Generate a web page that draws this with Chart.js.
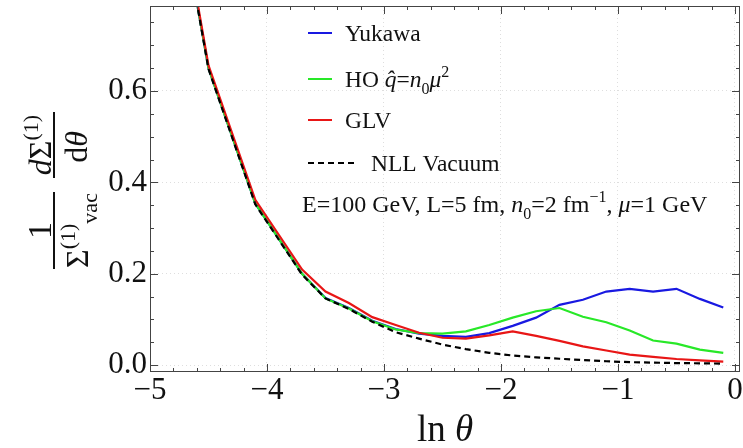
<!DOCTYPE html>
<html lang="en">
<head>
  <meta charset="UTF-8" />
  <title>Splitting function, medium vs vacuum</title>
  <script src="https://cdn.jsdelivr.net/npm/chart.js"></script>
  <style>
    body {
      margin: 0;
      background: #fff;
    }
    canvas {
      display: block;
    }
  </style>
</head>
<body>

<canvas id="splitChart" width="743" height="448"></canvas>

<script>
  // ln(theta) sample points
  const lnTheta = [-4.9, -4.5, -4.1, -3.7, -3.5, -3.3, -3.1, -2.9, -2.7, -2.5, -2.3,
                   -2.1, -1.9, -1.7, -1.5, -1.3, -1.1, -0.9, -0.7, -0.5, -0.3, -0.1];

  const yukawa = [1.23, 0.650, 0.354, 0.200, 0.147, 0.125, 0.097, 0.079, 0.069, 0.064, 0.062,
                  0.070, 0.086, 0.104, 0.132, 0.143, 0.161, 0.167, 0.161, 0.167, 0.145, 0.126];
  const hoQhat = [1.23, 0.650, 0.354, 0.200, 0.146, 0.124, 0.096, 0.078, 0.070, 0.069, 0.074,
                  0.088, 0.104, 0.118, 0.125, 0.106, 0.094, 0.076, 0.054, 0.047, 0.034, 0.027];
  const glv = [1.24, 0.656, 0.362, 0.209, 0.161, 0.136, 0.105, 0.088, 0.071, 0.060, 0.058,
               0.065, 0.074, 0.064, 0.053, 0.041, 0.032, 0.023, 0.018, 0.0135, 0.0105, 0.0077];
  const nllVacuum = [1.23, 0.648, 0.352, 0.198, 0.146, 0.123, 0.095, 0.072, 0.058, 0.045, 0.035,
                     0.027, 0.021, 0.017, 0.014, 0.011, 0.0085, 0.0065, 0.0055, 0.0045, 0.004, 0.0033];

  const xTicks = [-5, -4, -3, -2, -1, 0];
  const yTicks = [0, 0.2, 0.4, 0.6];

  const SERIF = '"Liberation Serif", "DejaVu Serif", serif';
  const BLUE = 'rgb(25,25,225)';
  const GREEN = 'rgb(40,232,40)';
  const RED = 'rgb(232,22,22)';

  const pts = ys => lnTheta.map((x, i) => ({ x: x, y: ys[i] }));

  // draws a run of text pieces: {t, it, sub, sup}
  function richText(ctx, x, y, parts, size) {
    let cx = x;
    parts.forEach(p => {
      const s = p.sub || p.sup ? Math.round(size * 0.68) : size;
      ctx.font = (p.it ? 'italic ' : '') + s + 'px ' + SERIF;
      let dy = 0;
      if (p.sub) dy = size * 0.28;
      if (p.sup) dy = -size * 0.42;
      ctx.fillText(p.t, cx, y + dy);
      cx += ctx.measureText(p.t).width;
    });
    return cx - x;
  }

  function richWidth(ctx, parts, size) {
    let w = 0;
    parts.forEach(p => {
      const s = p.sub || p.sup ? Math.round(size * 0.68) : size;
      ctx.font = (p.it ? 'italic ' : '') + s + 'px ' + SERIF;
      w += ctx.measureText(p.t).width;
    });
    return w;
  }

  const decorations = {
    id: 'decorations',
    afterDraw(chart) {
      const ctx = chart.ctx;
      const a = chart.chartArea;
      const xs = chart.scales.x, ys = chart.scales.y;
      ctx.save();

      // frame
      ctx.strokeStyle = '#444';
      ctx.lineWidth = 1;
      ctx.strokeRect(a.left + 0.5, a.top + 0.5, a.right - a.left - 1, a.bottom - a.top - 1);

      // tick marks, inward on all four sides
      ctx.beginPath();
      for (let k = 0; k <= 25; k++) {
        const v = -5 + k * 0.2;
        const px = Math.round(xs.getPixelForValue(v)) + 0.5;
        const len = k % 5 === 0 ? 8 : 4;
        ctx.moveTo(px, a.bottom); ctx.lineTo(px, a.bottom - len);
        ctx.moveTo(px, a.top); ctx.lineTo(px, a.top + len);
      }
      for (let k = 0; k <= 15; k++) {
        const v = k * 0.05;
        const py = Math.round(ys.getPixelForValue(v)) + 0.5;
        const len = k % 4 === 0 ? 8 : 4;
        ctx.moveTo(a.left, py); ctx.lineTo(a.left + len, py);
        ctx.moveTo(a.right, py); ctx.lineTo(a.right - len, py);
      }
      ctx.stroke();

      // legend
      ctx.fillStyle = '#111';
      ctx.textBaseline = 'alphabetic';
      ctx.textAlign = 'left';
      const legend = [
        { c: BLUE, y: 33, parts: [{ t: 'Yukawa' }] },
        { c: GREEN, y: 79, parts: [{ t: 'HO ' }, { t: 'q\u0302', it: true }, { t: '=' }, { t: 'n', it: true },
                                    { t: '0', sub: true }, { t: '\u03bc', it: true }, { t: '2', sup: true }] },
        { c: RED, y: 120, parts: [{ t: 'GLV' }] }
      ];
      legend.forEach(l => {
        ctx.strokeStyle = l.c;
        ctx.lineWidth = 2;
        ctx.setLineDash([]);
        ctx.beginPath();
        ctx.moveTo(308, l.y); ctx.lineTo(332, l.y);
        ctx.stroke();
        richText(ctx, 345, l.y + 8, l.parts, 23.5);
      });
      ctx.strokeStyle = '#000';
      ctx.setLineDash([6, 4]);
      ctx.beginPath();
      ctx.moveTo(308, 163); ctx.lineTo(356, 163);
      ctx.stroke();
      ctx.setLineDash([]);
      richText(ctx, 371, 171, [{ t: 'NLL Vacuum' }], 23.5);

      // parameters
      richText(ctx, 302, 212, [
        { t: 'E=100 GeV, L=5 fm, ' }, { t: 'n', it: true }, { t: '0', sub: true }, { t: '=2 fm' },
        { t: '\u22121', sup: true }, { t: ', ' }, { t: '\u03bc', it: true }, { t: '=1 GeV' }
      ], 24);

      // x axis title
      const xt = [{ t: 'ln ' }, { t: '\u03b8', it: true }];
      const xw = richWidth(ctx, xt, 37);
      richText(ctx, (a.left + a.right) / 2 - xw / 2, 441, xt, 37);

      // y axis title (rotated fractions)
      ctx.translate(54, 0);
      ctx.rotate(-Math.PI / 2);
      ctx.strokeStyle = '#111';
      ctx.lineWidth = 2;
      ctx.beginPath();
      ctx.moveTo(-269, 0); ctx.lineTo(-192, 0);
      ctx.moveTo(-178, 0); ctx.lineTo(-112, 0);
      ctx.stroke();
      const one = [{ t: '1' }];
      richText(ctx, -230.5 - richWidth(ctx, one, 34) / 2, -3, one, 34);
      const den1 = [{ t: '\u03a3' }, { t: '(1)', sup: true }, { t: 'vac', sub: true }];
      richText(ctx, -230.5 - richWidth(ctx, den1, 32) / 2, 34, den1, 32);
      const num2 = [{ t: 'd', it: true }, { t: '\u03a3' }, { t: '(1)', sup: true }];
      richText(ctx, -145 - richWidth(ctx, num2, 32) / 2, -3, num2, 32);
      const den2 = [{ t: 'd' }, { t: '\u03b8', it: true }];
      richText(ctx, -147 - richWidth(ctx, den2, 32) / 2, 33, den2, 32);

      ctx.restore();
    }
  };

  const line = (label, ys, color, order, dash) => ({
    label: label,
    data: pts(ys),
    borderColor: color,
    borderWidth: 2.2,
    borderDash: dash || [],
    pointRadius: 0,
    fill: false,
    tension: 0,
    order: order
  });

  new Chart(document.getElementById('splitChart'), {
    type: 'line',
    data: {
      datasets: [
        line('NLL Vacuum', nllVacuum, '#000', 0, [6, 4]),
        line('GLV', glv, RED, 1),
        line('HO', hoQhat, GREEN, 2),
        line('Yukawa', yukawa, BLUE, 3)
      ]
    },
    options: {
      responsive: false,
      devicePixelRatio: 1,
      animation: false,
      layout: { padding: { top: 6, right: 3, left: 0, bottom: 0 } },
      plugins: {
        legend: { display: false },
        tooltip: { enabled: false }
      },
      scales: {
        x: {
          type: 'linear',
          min: -5,
          max: 0.043,
          afterBuildTicks: axis => { axis.ticks = xTicks.map(v => ({ value: v })); },
          afterFit: axis => {
            axis.height = 76;
            axis.paddingLeft = 0;
            axis.paddingRight = 0;
          },
          ticks: {
            color: '#111',
            padding: 0,
            maxRotation: 0,
            font: { family: SERIF, size: 31 },
            callback: v => v < 0 ? '\u2212' + Math.abs(v) : '0'
          },
          grid: { color: '#dedede', drawTicks: false },
          border: { display: false, dash: [1, 3] }
        },
        y: {
          min: -0.015,
          max: 0.786,
          afterBuildTicks: axis => { axis.ticks = yTicks.map(v => ({ value: v })); },
          afterFit: axis => {
            axis.width = 150;
            axis.paddingTop = 0;
            axis.paddingBottom = 0;
          },
          ticks: {
            color: '#111',
            padding: 3,
            font: { family: SERIF, size: 31 },
            callback: v => v.toFixed(1)
          },
          grid: { color: '#dedede', drawTicks: false },
          border: { display: false, dash: [1, 3] }
        }
      }
    },
    plugins: [decorations]
  });
</script>

</body>
</html>
